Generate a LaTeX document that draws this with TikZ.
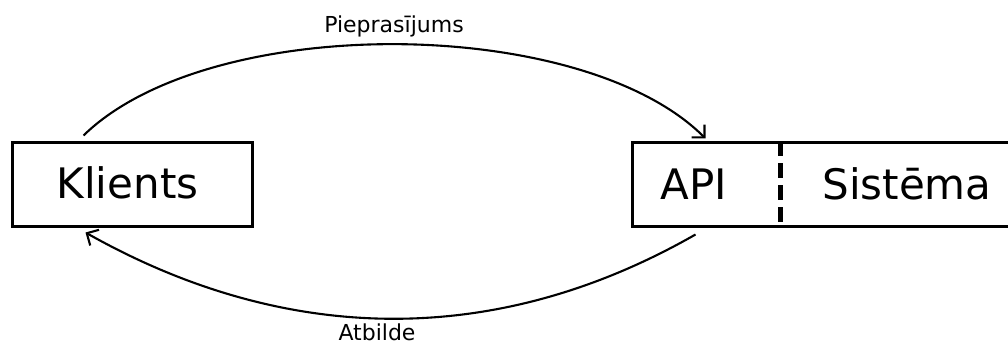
\documentclass[tikz,border=0pt]{standalone}
\usepackage{fontspec}
\setmainfont{DejaVu Sans}
\usetikzlibrary{arrows.meta,calc}
\begin{document}
\begin{tikzpicture}[x=1pt,y=-1pt,
  box/.style={draw,line width=3pt,inner sep=0pt,fill=none},
  big/.style={font=\fontsize{42}{42}\selectfont,anchor=base,inner sep=0pt},
  lbl/.style={font=\fontsize{22}{22}\selectfont,anchor=base,inner sep=0pt},
  flow/.style={line width=2.1pt,-{Straight Barb[length=9pt,width=18pt,line width=2.1pt]}},
  divider/.style={line width=5pt,dash pattern=on 15pt off 7pt}]
\useasboundingbox (0,0) rectangle (1008,344);
\node[box,minimum width=240,minimum height=84] (kbox) at (132,185) {};
\node[box,minimum width=390,minimum height=84] (sbox) at (827,185) {};
\node[big] (klients) at (127.5,199) {Klients};
\node[big] (api) at (694,200) {API};
\node[big] (sys) at (907,200) {Sistēma};
\coordinate (dtop) at ($(sbox.north west)+(150,0)$);
\coordinate (dbot) at ($(sbox.south west)+(150,0)$);
\draw[divider] (dtop) -- (dbot);
\coordinate (s1) at ($(kbox.north west)+(73,-6)$);
\coordinate (e1) at ($(sbox.north west)+(75,-3)$);
\draw[flow] (s1) .. controls (210,12) and (582,15) .. (e1);
\coordinate (s2) at ($(sbox.south west)+(65,6)$);
\coordinate (e2) at ($(kbox.south west)+(75,4)$);
\draw[flow] (s2) .. controls (497,348) and (287,346) .. (e2);
\node[lbl] (req) at (394,33) {Pieprasījums};
\node[lbl] (resp) at (377,340) {Atbilde};
\end{tikzpicture}
\end{document}
